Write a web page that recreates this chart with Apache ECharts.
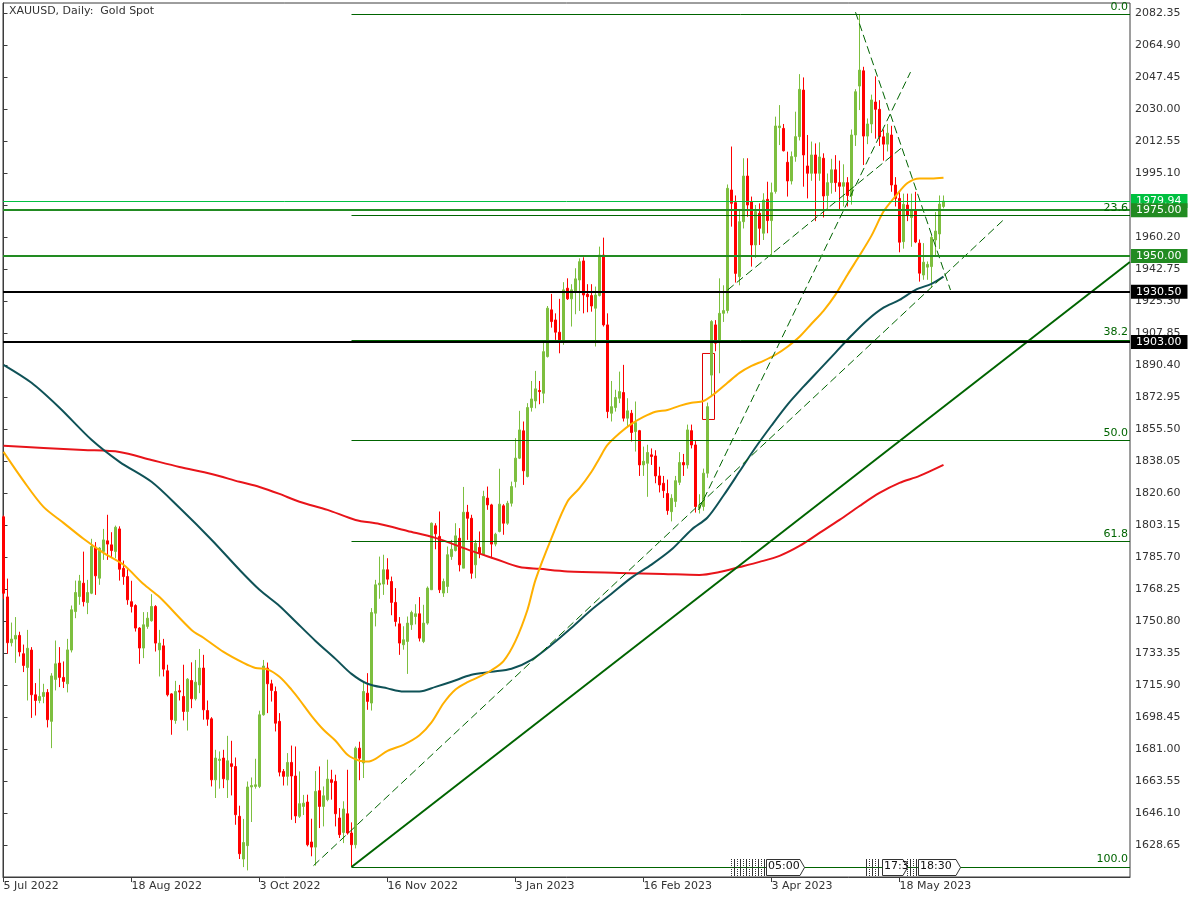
<!DOCTYPE html>
<html><head><meta charset="utf-8">
<script src="https://cdn.jsdelivr.net/npm/echarts/dist/echarts.min.js"></script>
<style>html,body{margin:0;padding:0;background:#fff}#c{width:1200px;height:900px}</style>
</head><body><div id="c"></div>
<script>
// ---- DATA (XAUUSD daily, bar index 0 = 5 Jul 2022, 235 = 2 Jun 2023) ----
const openP = [
1807.7,1764,1739,1741,1743,1733,1725.5,1735,1710.6,1707.5,
1709.7,1711.9,1696.1,1719,1727.9,1720.1,1716.6,1735,1756,1764.2,
1771.5,1760.9,1766,1791.2,1774.2,1788.8,1794.6,1792.4,1788.8,1801.1,
1779.6,1775.1,1761.4,1759.3,1747,1736.1,1747.9,1751,1758.8,1735.1,
1737.3,1723.7,1711.1,1696.6,1712.8,1709.7,1701.5,1718.4,1708.4,1716,
1725.2,1702,1697.5,1664.2,1674.8,1676.1,1664.2,1673,1671.5,1644.3,
1621,1628.3,1660.3,1660.6,1660.6,1699.7,1725.2,1716.6,1712.4,1696.1,
1668.8,1666.1,1673.7,1666.3,1644.3,1649.7,1652.1,1630.3,1627.5,1658.3,
1649.7,1653.4,1664.3,1663.4,1643.4,1635.5,1645.7,1635.2,1628.8,1681.5,
1673.4,1711.5,1706.1,1755.1,1770.6,1771,1778.8,1772.4,1761,1749.3,
1737.9,1739.7,1748.8,1753.3,1754.8,1739.7,1749.7,1767.9,1802.8,1797,
1766.1,1769.7,1786,1789.3,1796,1779.7,1810.2,1806.9,1781.5,1791,
1787,1817.9,1814.2,1792.8,1799.7,1813.7,1804.2,1815.1,1826.9,1839.7,
1854.6,1829.7,1867.3,1870.9,1876.6,1875.1,1895.1,1920.6,1915.1,1908.4,
1904.2,1932.4,1926.6,1930.6,1936.9,1947.3,1929.1,1928.4,1921.5,1928.4,
1950.5,1912.4,1864.2,1867.3,1872.4,1875.5,1861.5,1864.2,1854.2,1854.7,
1836,1836.9,1841.5,1840.9,1830,1826,1820.4,1810.5,1816.1,1826.5,
1837.3,1836,1854.7,1846.9,1812.4,1813.3,1831.5,1885,1912.4,1904.2,
1918.7,1920.2,1986,1979.1,1938.7,1968.7,1993.6,1979.6,1956,1973.3,
1962.4,1980.9,1969.3,1985.2,2020,2019.6,2001.1,1990.9,2004.2,2015.1,
2040.5,1999.1,1995.1,2005.1,1995.1,2003.3,1983,1990,1997,1990,
1988,1990,1983,2016,2042.7,2051,2015.4,2022,2034,2030,
2015,2011,2016,1988.7,1981.4,1957.8,1977.8,1971,1975,1957,
1939.6,1943.9,1944.2,1958.7,1962,1977];
const highP = [
1808.5,1774,1750,1753,1745,1738,1746,1736.6,1717,1724.8,
1716.6,1713.7,1722.4,1740.2,1736.6,1728.8,1741.1,1759.3,1772.9,1776,
1788.7,1773.3,1795.7,1793.9,1791.2,1801.1,1808.8,1799.3,1802.9,1802.5,
1783.8,1779.1,1772.8,1760,1747.5,1755.7,1755.7,1765.5,1759.5,1746,
1741.1,1727,1711.5,1718.2,1716,1727,1719.7,1728.3,1729.6,1735.6,
1732.4,1707.5,1698.4,1680.6,1679.7,1680.6,1688.2,1685.5,1676.4,1650.1,
1642.9,1663.3,1665.5,1675.7,1701.9,1729.6,1728.2,1718.8,1715.1,1700.6,
1670.1,1678.8,1682.9,1682.4,1668.8,1656,1656.1,1643,1669,1671.5,
1660.6,1675.2,1669.7,1667,1648.8,1652.5,1669.7,1641,1682.4,1685,
1717,1722.4,1757.9,1773.3,1786,1787,1785.1,1775.1,1768.8,1753,
1748,1753.3,1756.5,1760,1763.9,1759.7,1769.7,1804.6,1804.2,1810.6,
1774,1791.5,1795.1,1804.2,1801.5,1824,1814.2,1808.8,1795.1,1799.7,
1821.9,1824.2,1814.8,1799,1833.9,1814.6,1816.4,1826.9,1850.6,1865.5,
1859.7,1869.7,1881.8,1887.3,1881.8,1903.3,1922.7,1929.3,1918.7,1926.6,
1935.7,1937.8,1934.6,1943.3,1948.7,1949.3,1934.6,1934.6,1933.3,1955.1,
1960,1918.7,1881.8,1877,1886.9,1890.6,1872.4,1866,1870.6,1855.1,
1846,1847,1845,1844,1835,1830,1828,1820,1830,1843,
1842,1858,1858,1849,1820,1834,1870,1915,1915,1937.8,
1934,1989,2009.7,1983,1975,2003.3,2003.3,1982.4,1977.8,1978.7,
1984.2,1990.5,1990,2026,2032.3,2022,2006.9,2007,2028.7,2049.2,
2047.4,2016,2012.4,2011.4,2012,2006,1995,2003,2005,2002,
2000,1993,2019,2041,2081.8,2053.2,2025,2038,2048,2035,
2019,2022,2021,1993,1985,1984,1984,1984,1985,1959,
1957,1947,1962,1974,1983,1983];
const lowP = [
1763,1733,1737,1728,1731.5,1723,1707.5,1698,1699.3,1706,
1706,1692.8,1681.5,1713,1714.8,1714.3,1711.9,1733.7,1752.4,1759.7,
1758.8,1754.6,1765.5,1765.1,1770.6,1784.2,1784.2,1785.7,1785.1,1772.9,
1770.6,1759.7,1755.5,1745.1,1727.5,1730.6,1746.6,1750.5,1734.2,1720.6,
1720.6,1709.7,1688.8,1694.8,1707.5,1696.6,1691.1,1703.3,1707.5,1711.5,
1697,1693.7,1660.6,1654.3,1659.4,1659.7,1654.3,1655.7,1639.7,1621,
1616.6,1614.8,1641.2,1659.4,1659.7,1699.2,1700.6,1706.9,1690.6,1666.1,
1661.1,1661.1,1642.4,1640.6,1643.4,1645,1627.9,1622.5,1617.4,1637.9,
1638.8,1652.5,1653.4,1638.8,1632.5,1629.7,1634.3,1616.7,1626.8,1664,
1665.2,1702.4,1702,1747.9,1763,1765.1,1770.6,1754,1747.9,1732.4,
1735.2,1722,1746,1749,1739.7,1738.8,1748.8,1767.9,1790,1766.1,
1764,1766.1,1784.2,1788.8,1777.9,1779.7,1795.1,1773.9,1774.2,1785.1,
1787,1811.5,1785.1,1791.6,1799.2,1797.9,1803.3,1813.3,1823.7,1839.2,
1825.1,1829.2,1865.1,1866.9,1869.1,1869.7,1894.6,1910.9,1904.2,1896.9,
1901.5,1926,1911.5,1918.2,1920,1918.7,1919.3,1919.6,1900.6,1927.9,
1911.5,1861.5,1859.7,1865.1,1869.7,1859.7,1857,1848.8,1843.3,1830,
1830,1818.6,1836,1826,1821,1818,1808.8,1805.2,1813,1825,
1830,1834,1845,1810,1809.5,1811,1829,1873,1898,1886,
1914,1918.7,1966,1935.5,1934,1965,1971.4,1944.2,1949,1956,
1958.7,1962.4,1950,1984,2010.5,2007,1982.4,1989,2001.4,2013,
1987.8,1981.4,1991,1969,1991,1971,1975,1984,1985,1975,
1977,1977,1978,2010,2029.6,1999.6,2011,2017,2014,2010,
2002,2007,1985,1977,1952,1954,1969,1955,1957,1936,
1937,1937,1933,1950,1953.8,1976];
const closeP = [
1766,1739,1741,1743,1734,1726.6,1736,1710.6,1707.5,1709.7,
1711.9,1697,1720.9,1727.5,1720.1,1717.9,1735.1,1757,1766.4,1772.7,
1761.4,1766.4,1791.5,1775.5,1790.6,1795.1,1792.8,1789.3,1802,1779.1,
1775.1,1762.4,1758.8,1747,1736.1,1748.8,1752.4,1758.8,1738.8,1738.8,
1724.6,1710.6,1697,1712.4,1712.1,1701.5,1719.1,1708.4,1717.5,1725.2,
1702.4,1697.3,1664.2,1676.1,1675.5,1664.8,1674.6,1671.5,1645.2,1623.9,
1630,1660.3,1661.1,1661.5,1699.7,1726.3,1716.6,1713,1695.1,1668.4,
1666.1,1673.7,1666.3,1644.5,1651.2,1651.5,1628.8,1627.5,1657.9,1649.7,
1655.5,1664.6,1662.8,1645.7,1634.3,1648.3,1635.2,1628.8,1681.5,1676,
1712.4,1707,1755.5,1770.6,1771.5,1778.8,1773.7,1761,1750.6,1738.8,
1740.6,1749.7,1755.5,1754.8,1741.5,1749.7,1768.8,1804.2,1798.4,1767.9,
1772.4,1787,1790,1797.3,1781.5,1810.2,1806.9,1776.9,1793.3,1787.9,
1818.8,1814.2,1792.8,1798.2,1814.6,1804.2,1815.1,1824.2,1839.7,1855.1,
1832.8,1867.3,1872,1877.5,1876,1897.8,1921.5,1914.2,1908.4,1904.2,
1931.5,1926.6,1931.5,1937.5,1946.9,1928.7,1927.8,1922.7,1928.7,1950.5,
1912.4,1865.1,1867.8,1872.8,1876,1861.5,1865.5,1853.7,1859.1,1836,
1838,1842.8,1840.6,1830,1825.1,1822,1811.1,1817.8,1827.4,1837.3,
1836,1855.1,1846.9,1813.3,1814.2,1831.5,1867.8,1914.2,1902.4,1918.7,
1920.2,1986.9,1978.7,1940.5,1968.7,1993.6,1977.8,1956,1974.2,1965.1,
1980.5,1969.3,1984.5,2020.9,2020.9,2007.4,1990.9,2004.2,2015.1,2040.9,
2005.1,1995.1,2005.1,1995.1,2004,1982.7,1990,1997,1990,1988,
1990,1983,2016,2039.6,2051.4,2015.4,2022,2035.1,2030,2015,
2011,2017,1988.7,1981.4,1957.5,1978.2,1972,1975,1957.6,1940.6,
1946.6,1945.4,1960.2,1963.6,1978.3,1979.94];

// moving averages (bar index, value)
const maOrangeBars = [0,5,10,15,20,25,30,35,39,47,50,55,60,63,66,69,72,74,77,80,83,86,89,91,93,96,100,104,107,110,113,116,119,122,125,128,131,133,137,141,144,147,149,151,154,157,160,163,166,169,172,175,178,181,184,187,190,193,196,199,202,205,208,211,214,217,220,223,226,229,232,235];
const maOrangeVals = [1843.1,1827.3,1813.1,1804.4,1795.7,1788.0,1781.5,1771.0,1763.9,1746.0,1741.7,1734.0,1728.0,1725.2,1724.5,1720.4,1713.4,1707.9,1699.1,1691.5,1685.5,1677.9,1674.6,1674.2,1675.7,1680.0,1683.3,1688.5,1695.5,1706.0,1713.5,1717.5,1720.5,1724.0,1729.0,1740.0,1757.0,1773.3,1796.1,1816.0,1823.3,1832.3,1839.7,1846.9,1853.3,1858.4,1862.2,1865.0,1866.0,1868.2,1869.9,1870.9,1875.3,1880.8,1886.2,1890.0,1892.8,1896.1,1900.5,1905.9,1913.0,1920.1,1928.9,1939.8,1950.2,1961.1,1974.2,1982.6,1989.8,1992.3,1992.3,1992.7];
const maTealBars = [0,7,14,22,29,37,44,52,59,64,69,73,78,83,87,91,96,100,104,108,112,117,122,127,132,137,142,147,152,157,162,167,172,176,180,184,188,192,196,200,204,208,212,216,220,224,228,232,235];
const maTealVals = [1890.6,1880.8,1867.2,1849.7,1837.7,1826.8,1812.6,1795.2,1778.8,1767.9,1759.1,1750.6,1740.0,1730.2,1722.0,1716.6,1714.1,1712.4,1712.4,1714.9,1717.7,1721.5,1723.1,1724.8,1729.7,1737.9,1747.2,1757.0,1765.7,1774.5,1781.6,1789.8,1800.7,1807.3,1819.3,1832.4,1845.5,1857.5,1868.9,1878.7,1888.0,1897.3,1906.6,1915.1,1921.8,1926.0,1931.5,1934.8,1938.7];
const maRedBars = [0,10,20,29,37,44,52,59,64,69,74,81,88,94,101,108,117,123,129,134,141,154,165,174,179,184,189,194,199,204,209,214,219,224,229,235];
const maRedVals = [1846.4,1845.3,1844.2,1843.1,1838.7,1834.9,1831.1,1826.8,1824.0,1820.2,1815.9,1811.5,1806.0,1803.8,1800.0,1796.2,1789.1,1784.7,1780.3,1779.3,1777.9,1777.1,1776.5,1776.0,1777.6,1780.3,1783.1,1786.4,1791.8,1798.9,1806.0,1813.6,1820.7,1826.2,1830.0,1836.0];

// axis ticks
const xTickLabels = ['5 Jul 2022','18 Aug 2022','3 Oct 2022','16 Nov 2022','3 Jan 2023','16 Feb 2023','3 Apr 2023','18 May 2023'];
const xTickBars = [0, 32, 64, 96, 128, 160, 192, 224];
const yMin = 1611.20, yMax = 2088.0, yStep = 17.45;

// horizontal levels drawn on the chart
const hLevels = [1979.94, 1975.00, 1950.00, 1930.50, 1903.00];
// fibonacci retracement (from 3 Nov 2022 low to 4 May 2023 high)
const fibNames = ['0.0','23.6','38.2','50.0','61.8','100.0'];
const fibPrices = [2081.8, 1972.0, 1904.1, 1849.3, 1794.4, 1616.7];
const fibStartBar = 87;
// trend lines: [bar, price] pairs
const solidTrend = [[87, 1616.7], [281.6, 1946.7]];
const dashedTrends = [
  [[77.5, 1617.4], [250.5, 1970.7]],
  [[173.75, 1811.4], [226.75, 2050.3]],
  [[181, 1931.4], [224.75, 2009.4]],
  [[213, 2083.0], [236.75, 1931.4]]
];
const gapBox = [[174.75, 1896.8], [177.75, 1860.8]];
const xMinBar = -0.125, xMaxBar = 281.625;
// calendar event flags at the bottom
const eventFlags = ['05:00', '17:3', '18:30'];

// ---- CHART ----
const FONT = 'DejaVu Sans';
const UP = '#7dbf3f', DOWN = '#ff0000', DG = '#006400';
const candles = openP.map((o, i) => [i, o, closeP[i], lowP[i], highP[i]]);
const zip = (b, v) => b.map((x, i) => [x, v[i]]);

const hStyles = [
  {color: '#00c040', width: 1, bg: '#00c040'},
  {color: '#228b22', width: 2, bg: '#228b22'},
  {color: '#228b22', width: 2, bg: '#228b22'},
  {color: '#000000', width: 2, bg: '#000000'},
  {color: '#000000', width: 2, bg: '#000000'}
];
const hLineData = hLevels.map((v, i) => ({
  yAxis: v,
  lineStyle: {color: hStyles[i].color, width: hStyles[i].width, type: 'solid'},
  label: {show: true, position: 'end', distance: 1, formatter: v.toFixed(2),
    backgroundColor: hStyles[i].bg, color: '#ffffff', padding: [1, 6, 0, 5],
    fontFamily: FONT, fontSize: 11, lineHeight: 13}
}));
const fibData = fibPrices.map((p, i) => [
  {coord: [fibStartBar, p], lineStyle: {color: DG, width: 1, type: 'solid'},
   label: {show: true, position: 'insideEndTop', distance: 2, formatter: fibNames[i], color: DG, fontFamily: FONT, fontSize: 11}},
  {coord: [xMaxBar, p]}
]);
const trendData = [
  [{coord: solidTrend[0], lineStyle: {color: DG, width: 2, type: 'solid'}}, {coord: solidTrend[1]}]
].concat(dashedTrends.map(t => [
  {coord: t[0], lineStyle: {color: DG, width: 1, type: [8, 4]}}, {coord: t[1]}
]));

const chart = echarts.init(document.getElementById('c'), null, {renderer: 'canvas'});

const eventGraphics = [];
function hatch(x0, x1) {
  for (let x = x0; x <= x1; x += 3) {
    eventGraphics.push({type: 'line', shape: {x1: x + 0.5, y1: 859, x2: x + 0.5, y2: 876},
      style: {stroke: '#333', lineWidth: 1, lineDash: (x % 2) ? [1, 1] : null}, z: 50});
  }
}
function evBox(x0, x1, txt) {
  eventGraphics.push({type: 'polygon', shape: {points: [[x0 + 0.5, 859.5], [x1 - 4, 859.5], [x1 + 0.5, 867.5], [x1 - 4, 875.5], [x0 + 0.5, 875.5]]},
    style: {fill: '#fff', stroke: '#333', lineWidth: 1}, z: 51});
  eventGraphics.push({type: 'text', x: x0 + 2, y: 861, style: {text: txt, fontFamily: FONT, fontSize: 11, fill: '#111'}, z: 52});
}
hatch(731, 765); evBox(766, 804, eventFlags[0]);
hatch(866, 880); evBox(882, 907, eventFlags[1]);
hatch(907, 916); evBox(918, 960, eventFlags[2]);

chart.setOption({
  animation: false,
  backgroundColor: '#ffffff',
  grid: {left: 3, right: 70, top: 3, bottom: 23, show: true, borderColor: '#3c3c3c', borderWidth: 1, backgroundColor: '#ffffff'},
  xAxis: {
    type: 'value', min: xMinBar, max: xMaxBar,
    axisLine: {show: true, onZero: false, lineStyle: {color: '#3c3c3c'}},
    axisTick: {show: true, length: 5, lineStyle: {color: '#3c3c3c'}, customValues: xTickBars},
    splitLine: {show: false},
    axisLabel: {
      show: true, align: 'left', margin: 4, color: '#333', fontFamily: FONT, fontSize: 11,
      customValues: xTickBars,
      formatter: v => {
        const k = xTickBars.indexOf(Math.round(v));
        return k >= 0 ? xTickLabels[k] : '';
      }
    }
  },
  yAxis: {
    type: 'value', position: 'right', min: yMin, max: yMax, interval: yStep, scale: true,
    axisLine: {show: true, lineStyle: {color: '#3c3c3c'}},
    axisTick: {show: true, length: 4, lineStyle: {color: '#3c3c3c'}},
    splitLine: {show: false},
    axisLabel: {
      show: true, margin: 5, color: '#333', fontFamily: FONT, fontSize: 11,
      showMinLabel: false, showMaxLabel: false,
      formatter: v => (v < yMin + 1 || v > yMax - 3) ? '' : v.toFixed(2)
    }
  },
  graphic: [
    {type: 'text', x: 9, y: 6, style: {text: 'XAUUSD, Daily:  Gold Spot', fontFamily: FONT, fontSize: 11, fill: '#333'}, z: 60}
  ].concat(eventGraphics),
  series: [
    {
      type: 'candlestick', name: 'XAUUSD', z: 2,
      dimensions: ['bar', 'open', 'close', 'lowest', 'highest'],
      encode: {x: 'bar', y: ['open', 'close', 'lowest', 'highest']},
      data: candles, barWidth: 2, clip: true,
      itemStyle: {color: UP, color0: DOWN, borderColor: UP, borderColor0: DOWN, borderWidth: 1}
    },
    {type: 'line', name: 'MA200', z: 3, data: zip(maRedBars, maRedVals), showSymbol: false, symbol: 'none', smooth: 0.3,
      lineStyle: {color: '#e8141a', width: 2}},
    {type: 'line', name: 'MA100', z: 3, data: zip(maTealBars, maTealVals), showSymbol: false, symbol: 'none', smooth: 0.3,
      lineStyle: {color: '#0f5257', width: 2}},
    {type: 'line', name: 'MA50', z: 3, data: zip(maOrangeBars, maOrangeVals), showSymbol: false, symbol: 'none', smooth: 0.3,
      lineStyle: {color: '#ffb000', width: 2}},
    {
      type: 'line', name: 'objects', z: 4, data: [], silent: true,
      markLine: {silent: true, symbol: ['none', 'none'], animation: false, precision: 2,
        data: fibData.concat(trendData)},
      markArea: {silent: true, itemStyle: {color: 'rgba(0,0,0,0)', borderColor: '#e00000', borderWidth: 1},
        data: [[{coord: gapBox[0]}, {coord: gapBox[1]}]]}
    },
    {
      type: 'line', name: 'levels', z: 5, data: [], silent: true,
      markLine: {silent: true, symbol: ['none', 'none'], animation: false, data: hLineData}
    }
  ]
});
</script></body></html>
